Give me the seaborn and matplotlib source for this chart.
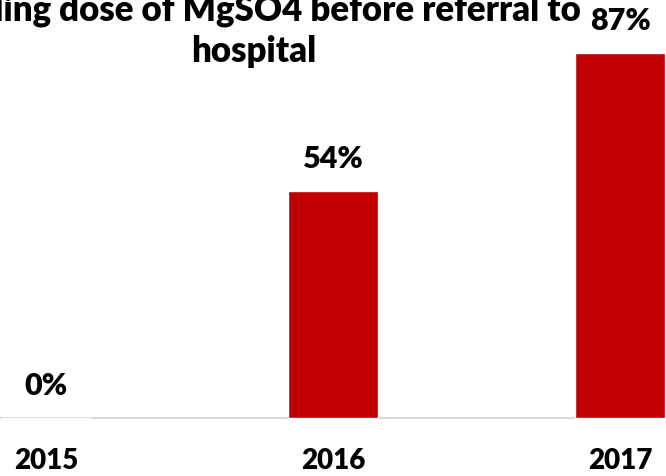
import matplotlib
matplotlib.use("Agg")
import matplotlib.pyplot as plt
import seaborn as sns
import pandas as pd

years = ["2015", "2016", "2017"]
values = [0, 54, 87]
value_labels = ["0%", "54%", "87%"]
title_text = "Loading dose of MgSO4 before referral to\nhospital"

sns.set_theme(style="white")
plt.rcParams['font.family'] = ['Lato', 'DejaVu Sans']

df = pd.DataFrame({"year": years, "value": values})

fig = plt.figure(figsize=(6.66, 4.76), dpi=100)
ax = fig.add_axes([0, 0, 1, 1])
sns.barplot(data=df, x="year", y="value", color="#C00000", width=0.314,
            saturation=1, ax=ax)

ax.set_xlim(-0.160, 2.160)
ax.set_ylim(-13.8, 99.5)
for s in ["top", "left", "right", "bottom"]:
    ax.spines[s].set_visible(False)
ax.axhline(0, color="#D9D9D9", lw=1.5, zorder=0)
ax.set_xticks([])
ax.set_yticks([])
ax.set_xlabel("")
ax.set_ylabel("")

for i, (v, lab) in enumerate(zip(values, value_labels)):
    ax.annotate(lab, (i, v), xytext=(0, 23), textcoords="offset points",
                ha="center", va="center", fontsize=22, fontweight=800,
                color="black")
    ax.annotate(years[i], (i, 0), xytext=(0, -31), textcoords="offset points",
                ha="center", va="center", fontsize=20, fontweight=800,
                color="black")

fig.text(254 / 666, 1 - 31 / 476, title_text, ha="center", va="center",
         fontsize=25, fontweight=800, color="black", linespacing=1.3)

fig.savefig("out.png", dpi=100)
